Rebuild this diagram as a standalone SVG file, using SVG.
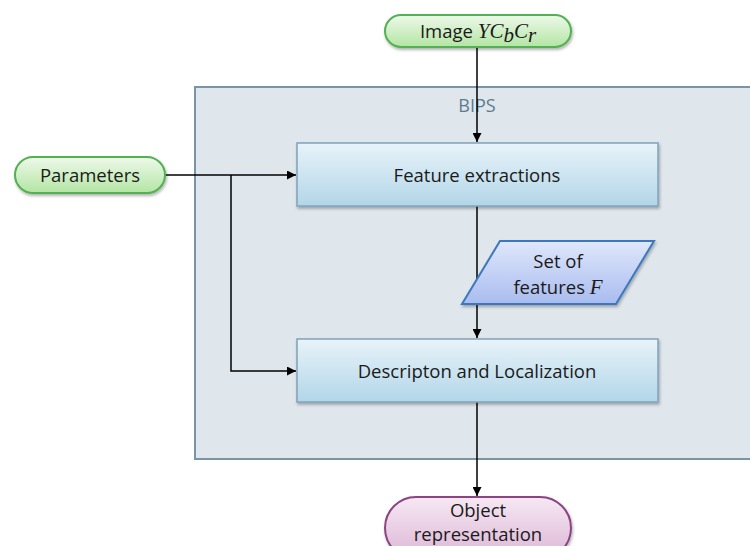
<svg xmlns="http://www.w3.org/2000/svg" width="750" height="546" viewBox="0 0 750 546">
<defs>
<linearGradient id="gGreen" x1="0" y1="0" x2="0" y2="1"><stop offset="0" stop-color="#eef9ea"/><stop offset="1" stop-color="#b3e5a3"/></linearGradient>
<linearGradient id="gBlue" x1="0" y1="0" x2="0" y2="1"><stop offset="0" stop-color="#e8f3f9"/><stop offset="1" stop-color="#b2d6e8"/></linearGradient>
<linearGradient id="gPara" x1="0" y1="0" x2="0" y2="1"><stop offset="0" stop-color="#dfe7fb"/><stop offset="1" stop-color="#a9bcef"/></linearGradient>
<linearGradient id="gPurple" x1="0" y1="0" x2="0" y2="1"><stop offset="0" stop-color="#f6e8f3"/><stop offset="1" stop-color="#dcb6d6"/></linearGradient>
<filter id="sh" x="-10%" y="-20%" width="120%" height="150%"><feDropShadow dx="1" dy="2" stdDeviation="1.5" flood-color="#000" flood-opacity="0.3"/></filter>
<marker id="arr" viewBox="0 0 10 10" refX="10" refY="5" markerWidth="9" markerHeight="9" markerUnits="userSpaceOnUse" orient="auto"><path d="M0,0 L10,5 L0,10 z" fill="#000"/></marker>
</defs>
<style>
text{font-family:"Open Sans","Liberation Sans",sans-serif;font-size:18.5px;fill:#1a1a1a;text-anchor:middle}
.m{font-family:"Liberation Serif",serif;font-style:italic;font-size:21px}
.pillG{fill:url(#gGreen);stroke:#52b052;stroke-width:2}
.box{fill:url(#gBlue);stroke:#7fa3bb;stroke-width:1.5}
.conn{fill:none;stroke:#000;stroke-width:1.5}
</style>
<g id="bips">
<rect x="195" y="87" width="570" height="372" fill="#dfe6ec" stroke="#7994a6" stroke-width="2"/>
<text x="477" y="112" style="fill:#5d7b8f;font-size:18px">BIPS</text>
</g>
<g id="connectors">
<path class="conn" d="M477,47 V142" marker-end="url(#arr)"/>
<path class="conn" d="M477,206 V338" marker-end="url(#arr)"/>
<path class="conn" d="M477,402 V496" marker-end="url(#arr)"/>
<path class="conn" d="M165,175 H296" marker-end="url(#arr)"/>
<path class="conn" d="M231,175 V371 H296" marker-end="url(#arr)"/>
</g>
<g id="image">
<rect class="pillG" x="385" y="15" width="186" height="32" rx="16" filter="url(#sh)"/>
<text x="478" y="38"><tspan>Image </tspan><tspan class="m">Y</tspan><tspan class="m">C</tspan><tspan class="m" font-size="14" dy="4">b</tspan><tspan class="m" dy="-4">C</tspan><tspan class="m" font-size="14" dy="4">r</tspan></text>
</g>
<g id="parameters">
<rect class="pillG" x="15" y="157" width="150" height="36" rx="18" filter="url(#sh)"/>
<text x="90" y="182">Parameters</text>
</g>
<g id="feature">
<rect class="box" x="297" y="143" width="361" height="63" filter="url(#sh)"/>
<text x="477" y="182">Feature extractions</text>
</g>
<g id="features">
<polygon points="500,241 654,241 616,304 462,304" fill="url(#gPara)" stroke="#3d77c0" stroke-width="2" filter="url(#sh)"/>
<text x="558" y="268">Set of</text>
<text x="558" y="294"><tspan>features </tspan><tspan class="m">F</tspan></text>
</g>
<g id="description">
<rect class="box" x="297" y="339" width="361" height="63" filter="url(#sh)"/>
<text x="477" y="378">Descripton and Localization</text>
</g>
<g id="object">
<rect x="385" y="497" width="186" height="62" rx="31" fill="url(#gPurple)" stroke="#8c4483" stroke-width="2" filter="url(#sh)"/>
<text x="478" y="517">Object</text>
<text x="478" y="541">representation</text>
</g>
</svg>
